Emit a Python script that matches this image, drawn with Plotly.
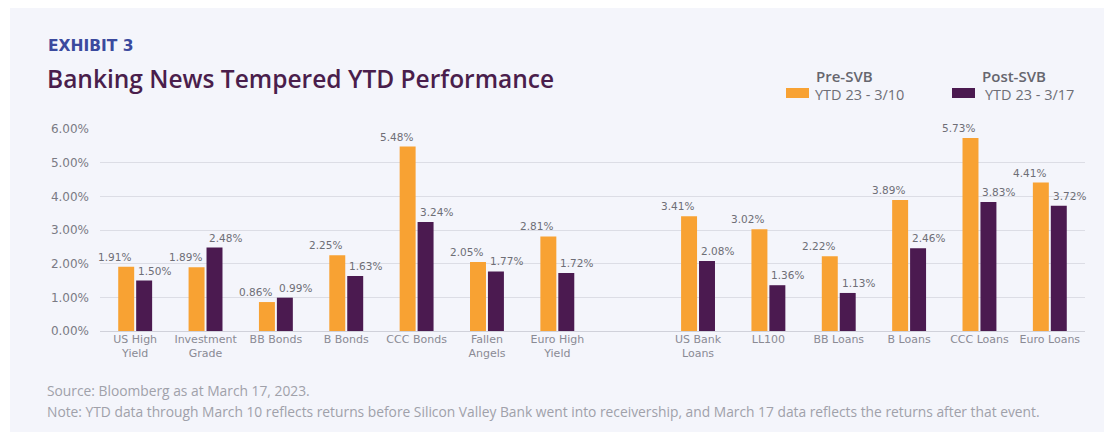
import plotly.graph_objects as go

# ---- data ----
bond_cats = ["US High<br>Yield", "Investment<br>Grade", "BB Bonds", "B Bonds", "CCC Bonds", "Fallen<br>Angels", "Euro High<br>Yield"]
bond_pre = [1.91, 1.89, 0.86, 2.25, 5.48, 2.05, 2.81]
bond_post = [1.50, 2.48, 0.99, 1.63, 3.24, 1.77, 1.72]

loan_cats = ["US Bank<br>Loans", "LL100", "BB Loans", "B Loans", "CCC Loans", "Euro Loans"]
loan_pre = [3.41, 3.02, 2.22, 3.89, 5.73, 4.41]
loan_post = [2.08, 1.36, 1.13, 2.46, 3.83, 3.72]

series_names = ["YTD 23 - 3/10", "YTD 23 - 3/17"]
series_heads = ["Pre-SVB", "Post-SVB"]
y_ticks = [0, 1, 2, 3, 4, 5, 6]
y_ticktext = ["0.00%", "1.00%", "2.00%", "3.00%", "4.00%", "5.00%", "6.00%"]

# one blank slot separates the bond group from the loan group
cats = bond_cats + [" "] + loan_cats
pre = bond_pre + [None] + loan_pre
post = bond_post + [None] + loan_post

ORANGE = "#f8a233"
PURPLE = "#4b1a50"
SANS = "Open Sans"
WIDE = "DejaVu Sans"

# the page body adds an 8px margin, so the figure is drawn 8px in from the window corner
OFF = 8
SCREEN_W, SCREEN_H = 1112, 432
W, H = SCREEN_W - OFF, SCREEN_H - OFF
# plot area in window pixels
L, R, T, B = 100, 1085, 129, 331


def px(x):
    return (x - L) / (R - L)


def py(y):
    return (B - y) / (B - T)


fig = go.Figure()
for name, vals, col in [(series_names[0], pre, ORANGE), (series_names[1], post, PURPLE)]:
    fig.add_trace(go.Bar(
        x=cats, y=vals, name=name, marker=dict(color=col, line=dict(width=0)),
        showlegend=False, hoverinfo="x+y",
    ))

# value labels, anchored on each category and pushed to its own side
for vals, anchor, shift in [(pre, "right", -2), (post, "left", 1)]:
    for c, v in zip(cats, vals):
        if v is None:
            continue
        fig.add_annotation(x=c, y=v, xref="x", yref="y", text=f"{v:.2f}%",
                           showarrow=False, xanchor=anchor, yanchor="bottom",
                           xshift=shift, yshift=2,
                           font=dict(family=WIDE, size=10.5, color="#6e6e76"))

fig.update_layout(
    width=W, height=H,
    margin=dict(l=L - OFF, r=SCREEN_W - R, t=T - OFF, b=SCREEN_H - B, pad=0, autoexpand=False),
    paper_bgcolor="white", plot_bgcolor="rgba(0,0,0,0)",
    barmode="group", bargap=0.49, bargroupgap=0.11,
    showlegend=False,
    font=dict(family=SANS, color="#7a7a82"),
    xaxis=dict(type="category", range=[-0.5, len(cats) - 0.5], automargin=False,
               showgrid=False, showline=False, ticks="", fixedrange=True,
               tickfont=dict(family=WIDE, size=11, color="#8a8a94")),
    yaxis=dict(range=[0, 6], tickvals=y_ticks, ticktext=y_ticktext, automargin=False,
               showgrid=True, gridcolor="#dcdde5", gridwidth=1,
               zeroline=True, zerolinecolor="#d0d1da", zerolinewidth=1,
               showline=False, ticks="", ticklabelstandoff=10,
               tickfont=dict(family=WIDE, size=12, color="#7a7a84")),
)

# card background
fig.add_shape(type="rect", xref="paper", yref="paper",
              x0=px(10), x1=px(SCREEN_W + 5), y0=py(SCREEN_H + 5), y1=py(8),
              fillcolor="#f4f5fb", line=dict(width=0), layer="below")

# legend swatches
for x0, col in [(786, ORANGE), (952, PURPLE)]:
    fig.add_shape(type="rect", xref="paper", yref="paper",
                  x0=px(x0), x1=px(x0 + 23), y0=py(98), y1=py(88),
                  fillcolor=col, line=dict(width=0))

anns = [
    dict(text="<b>EXHIBIT 3</b>", x=47, y=46, size=15.5, color="#3b4a9e", family=WIDE, weight=None),
    dict(text="Banking News Tempered YTD Performance", x=46, y=78, size=24.5, color="#4a1e4c", family=SANS, weight=600),
    dict(text=series_heads[0], x=815, y=76, size=15, color="#66666e", family=SANS, weight=600),
    dict(text=series_heads[1], x=981, y=76, size=15, color="#66666e", family=SANS, weight=600),
    dict(text=series_names[0], x=814, y=94, size=14.5, color="#6e6e76", family=SANS, weight=None),
    dict(text=series_names[1], x=984, y=94, size=14.5, color="#6e6e76", family=SANS, weight=None),
    dict(text="Source: Bloomberg as at March 17, 2023.", x=46, y=390, size=13.8, color="#a0a1aa", family=SANS, weight=None),
    dict(text="Note: YTD data through March 10 reflects returns before Silicon Valley Bank went into receivership, and March 17 data reflects the returns after that event.",
         x=46, y=411, size=13.8, color="#a0a1aa", family=SANS, weight=None),
]
for a in anns:
    f = dict(family=a["family"], size=a["size"], color=a["color"])
    if a["weight"]:
        f["weight"] = a["weight"]
    fig.add_annotation(text=a["text"], x=px(a["x"]), y=py(a["y"]), xref="paper", yref="paper",
                       xanchor="left", yanchor="middle", showarrow=False, borderpad=0, font=f)

fig.write_html("out.html")
